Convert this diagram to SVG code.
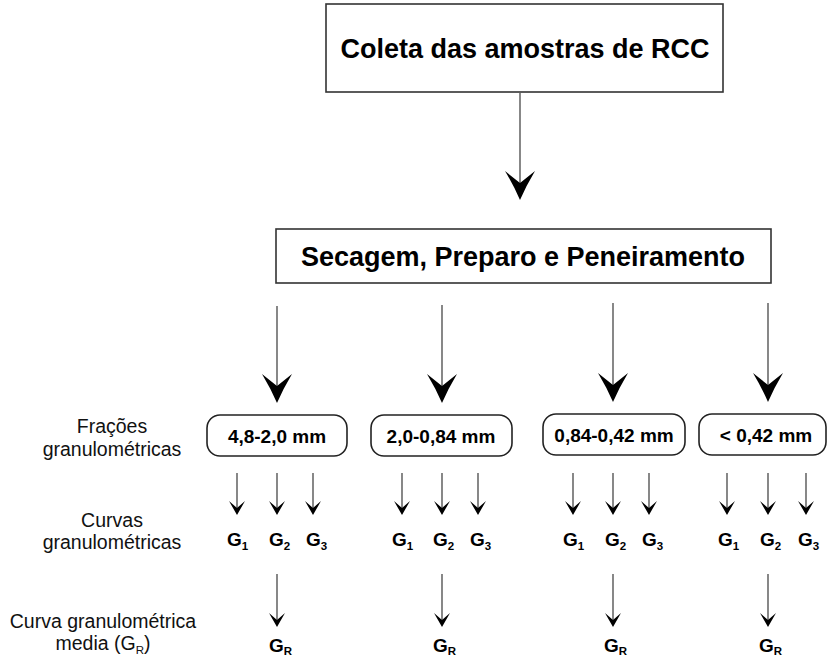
<svg xmlns="http://www.w3.org/2000/svg" xmlns:xlink="http://www.w3.org/1999/xlink" width="829" height="658" viewBox="0 0 829 658">
<style>
  text { font-family: "Liberation Sans", Arial, sans-serif; fill: #000; }
  .title { font-size: 27px; font-weight: bold; text-anchor: middle; }
  .pill-t { font-size: 19px; font-weight: bold; text-anchor: middle; }
  .lbl { font-size: 19.5px; text-anchor: middle; fill: #111; }
  .g { font-size: 19px; font-weight: bold; }
  .sub { font-size: 11.5px; }
  .box { fill: #fff; stroke: #333; stroke-width: 1.6; }
  .pill { fill: #fff; stroke: #222; stroke-width: 1.6; }
  .ln { stroke: #555; stroke-width: 1.4; fill: none; }
  .head { fill: #000; stroke: none; }
</style>
<defs>
  <path id="bigHead" class="head" d="M0,0 Q-6,-14 -15,-29 L0,-17 L15,-29 Q6,-14 0,0 Z"/>
  <path id="smallHead" class="head" d="M0,0 L-8,-14 L0,-7 L8,-14 Z"/>
</defs>

<g id="coleta">
  <rect class="box" x="326" y="4" width="397" height="88"/>
  <text class="title" x="525" y="58">Coleta das amostras de RCC</text>
</g>

<g id="secagem">
  <rect class="box" x="276" y="229" width="495" height="54"/>
  <text class="title" x="523" y="266">Secagem, Preparo e Peneiramento</text>
</g>

<g id="labels">
  <text class="lbl" x="112" y="433">Frações</text>
  <text class="lbl" x="112" y="456">granulométricas</text>
  <text class="lbl" x="112" y="527">Curvas</text>
  <text class="lbl" x="112" y="549">granulométricas</text>
  <text class="lbl" x="103" y="628">Curva granulométrica</text>
  <text class="lbl" x="103" y="650">media (G<tspan class="sub" dy="4">R</tspan><tspan dy="-4">)</tspan></text>
</g>

<g id="frac1">
  <rect class="pill" x="207" y="415" width="140" height="41" rx="13"/>
  <text class="pill-t" x="277" y="443">4,8-2,0 mm</text>
</g>
<g id="frac2">
  <rect class="pill" x="371" y="415" width="141" height="41" rx="13"/>
  <text class="pill-t" x="441" y="443">2,0-0,84 mm</text>
</g>
<g id="frac3">
  <rect class="pill" x="543" y="414" width="142" height="41" rx="13"/>
  <text class="pill-t" x="614" y="442">0,84-0,42 mm</text>
</g>
<g id="frac4">
  <rect class="pill" x="699" y="414" width="127" height="41" rx="13"/>
  <text class="pill-t" x="766" y="442">&lt; 0,42 mm</text>
</g>

<g id="curves">
  <text class="g" x="227" y="546">G<tspan class="sub" dy="4">1</tspan></text>
  <text class="g" x="269" y="546">G<tspan class="sub" dy="4">2</tspan></text>
  <text class="g" x="306" y="546">G<tspan class="sub" dy="4">3</tspan></text>
  <text class="g" x="392" y="546">G<tspan class="sub" dy="4">1</tspan></text>
  <text class="g" x="433" y="546">G<tspan class="sub" dy="4">2</tspan></text>
  <text class="g" x="470" y="546">G<tspan class="sub" dy="4">3</tspan></text>
  <text class="g" x="563" y="546">G<tspan class="sub" dy="4">1</tspan></text>
  <text class="g" x="605" y="546">G<tspan class="sub" dy="4">2</tspan></text>
  <text class="g" x="642" y="546">G<tspan class="sub" dy="4">3</tspan></text>
  <text class="g" x="718" y="546">G<tspan class="sub" dy="4">1</tspan></text>
  <text class="g" x="760" y="546">G<tspan class="sub" dy="4">2</tspan></text>
  <text class="g" x="798" y="546">G<tspan class="sub" dy="4">3</tspan></text>
</g>

<g id="means">
  <text class="g" x="269" y="652">G<tspan class="sub" dy="3">R</tspan></text>
  <text class="g" x="433" y="652">G<tspan class="sub" dy="3">R</tspan></text>
  <text class="g" x="604" y="652">G<tspan class="sub" dy="3">R</tspan></text>
  <text class="g" x="759" y="652">G<tspan class="sub" dy="3">R</tspan></text>
</g>

<g id="connectors">
  <line class="ln" x1="520" y1="93" x2="520" y2="190"/>
  <use xlink:href="#bigHead" x="520" y="200"/>

  <line class="ln" x1="277" y1="306" x2="277" y2="392"/>
  <use xlink:href="#bigHead" x="277" y="403"/>
  <line class="ln" x1="442" y1="305" x2="442" y2="392"/>
  <use xlink:href="#bigHead" x="442" y="403"/>
  <line class="ln" x1="613" y1="303" x2="613" y2="392"/>
  <use xlink:href="#bigHead" x="613" y="402"/>
  <line class="ln" x1="768" y1="303" x2="768" y2="392"/>
  <use xlink:href="#bigHead" x="768" y="402"/>

  <line class="ln" x1="237" y1="473" x2="237" y2="508"/><use xlink:href="#smallHead" x="237" y="515"/>
  <line class="ln" x1="277" y1="473" x2="277" y2="508"/><use xlink:href="#smallHead" x="277" y="515"/>
  <line class="ln" x1="313" y1="473" x2="313" y2="508"/><use xlink:href="#smallHead" x="313" y="515"/>
  <line class="ln" x1="402" y1="473" x2="402" y2="508"/><use xlink:href="#smallHead" x="402" y="515"/>
  <line class="ln" x1="442" y1="473" x2="442" y2="508"/><use xlink:href="#smallHead" x="442" y="515"/>
  <line class="ln" x1="478" y1="473" x2="478" y2="508"/><use xlink:href="#smallHead" x="478" y="515"/>
  <line class="ln" x1="573" y1="473" x2="573" y2="508"/><use xlink:href="#smallHead" x="573" y="515"/>
  <line class="ln" x1="613" y1="473" x2="613" y2="508"/><use xlink:href="#smallHead" x="613" y="515"/>
  <line class="ln" x1="649" y1="473" x2="649" y2="508"/><use xlink:href="#smallHead" x="649" y="515"/>
  <line class="ln" x1="727" y1="473" x2="727" y2="508"/><use xlink:href="#smallHead" x="727" y="515"/>
  <line class="ln" x1="768" y1="473" x2="768" y2="508"/><use xlink:href="#smallHead" x="768" y="515"/>
  <line class="ln" x1="806" y1="473" x2="806" y2="508"/><use xlink:href="#smallHead" x="806" y="515"/>

  <line class="ln" x1="277" y1="574" x2="277" y2="620"/><use xlink:href="#smallHead" x="277" y="627"/>
  <line class="ln" x1="442" y1="574" x2="442" y2="620"/><use xlink:href="#smallHead" x="442" y="627"/>
  <line class="ln" x1="613" y1="574" x2="613" y2="620"/><use xlink:href="#smallHead" x="613" y="627"/>
  <line class="ln" x1="768" y1="574" x2="768" y2="620"/><use xlink:href="#smallHead" x="768" y="627"/>
</g>
</svg>
